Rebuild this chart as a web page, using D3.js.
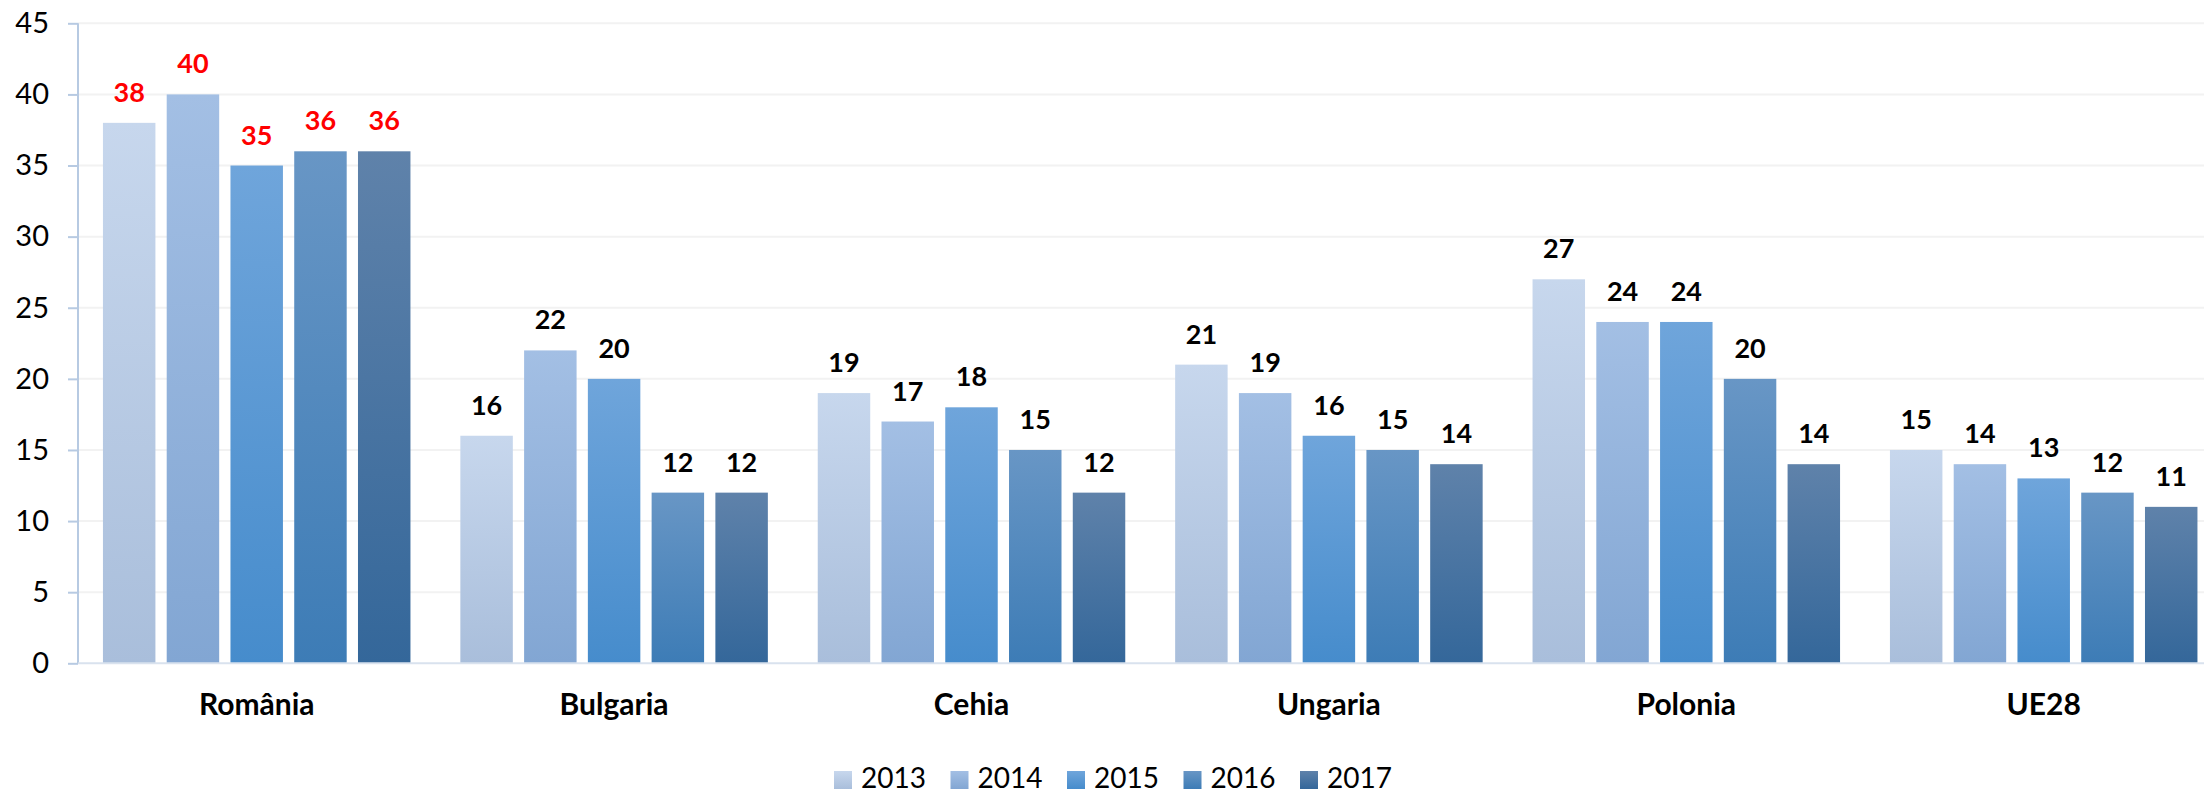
<!DOCTYPE html>
<html>
<head>
<meta charset="utf-8">
<script src="https://cdn.jsdelivr.net/npm/d3@7"></script>
<style>
  html, body { margin: 0; padding: 0; background: #fff; }
  svg { display: block; }
  text { font-family: Lato, "Open Sans", sans-serif; }
</style>
</head>
<body>
<svg id="chart" width="2204" height="795"></svg>
<script>
const countries = ["România", "Bulgaria", "Cehia", "Ungaria", "Polonia", "UE28"];
const years = ["2013", "2014", "2015", "2016", "2017"];
const values2013 = [38, 16, 19, 21, 27, 15];
const values2014 = [40, 22, 17, 19, 24, 14];
const values2015 = [35, 20, 18, 16, 24, 13];
const values2016 = [36, 12, 15, 15, 20, 12];
const values2017 = [36, 12, 12, 14, 14, 11];
const yTicks = [0, 5, 10, 15, 20, 25, 30, 35, 40, 45];
const highlightCountry = "România";

(function () {
const seriesValues = [values2013, values2014, values2015, values2016, values2017];
const gradTop = ["#c7d7ed", "#a3bfe4", "#6fa5db", "#6896c5", "#5f82aa"];
const gradBottom = ["#a9bedb", "#82a6d3", "#468ccc", "#3d7cb6", "#34679a"];

const svg = d3.select("#chart");
const W = 2204;
const mLeft = 78, mTop = 23.3, mBottom = 663.3;
const groupStep = 357.4;

const x0 = d3.scaleBand().domain(countries)
  .range([mLeft, mLeft + groupStep * countries.length])
  .paddingInner(0.1396).paddingOuter(0.0698);
const x1 = d3.scaleBand().domain(years)
  .range([0, x0.bandwidth()]).paddingInner(0.177).paddingOuter(0);
const y = d3.scaleLinear().domain([0, 45]).range([mBottom, mTop]);

const defs = svg.append("defs");
years.forEach((yr, i) => {
  const g = defs.append("linearGradient").attr("id", "g" + yr)
    .attr("x1", 0).attr("y1", 0).attr("x2", 0).attr("y2", 1);
  g.append("stop").attr("offset", "0%").attr("stop-color", gradTop[i]);
  g.append("stop").attr("offset", "100%").attr("stop-color", gradBottom[i]);
});

// gridlines
svg.append("g").selectAll("line").data(yTicks.filter(t => t > 0)).join("line")
  .attr("x1", mLeft).attr("x2", W)
  .attr("y1", d => y(d)).attr("y2", d => y(d))
  .attr("stroke", "#f2f2f2").attr("stroke-width", 2);

// bars
const data = [];
countries.forEach((c, ci) => years.forEach((yr, yi) => data.push({c, yr, v: seriesValues[yi][ci]})));

svg.append("g").selectAll("rect").data(data).join("rect")
  .attr("x", d => x0(d.c) + x1(d.yr))
  .attr("y", d => y(d.v))
  .attr("width", x1.bandwidth())
  .attr("height", d => y(0) - y(d.v))
  .attr("fill", d => `url(#g${d.yr})`);

// data labels
svg.append("g").selectAll("text").data(data).join("text")
  .attr("x", d => x0(d.c) + x1(d.yr) + x1.bandwidth() / 2)
  .attr("y", d => y(d.v) - 21)
  .attr("text-anchor", "middle")
  .attr("font-size", 27).attr("font-weight", 700)
  .attr("fill", d => d.c === highlightCountry ? "#ff0000" : "#000")
  .text(d => d.v);

// y axis
const yAxis = d3.axisLeft(y).tickValues(yTicks).tickSize(10).tickPadding(19);
const ya = svg.append("g").attr("transform", `translate(${mLeft},0)`).call(yAxis);
ya.select(".domain").attr("stroke", "#b7cae2").attr("stroke-width", 2)
  .attr("d", `M0,${mTop}V${mBottom}`);
ya.selectAll(".tick line").attr("stroke", "#b7cae2").attr("stroke-width", 2);
ya.selectAll(".tick text").attr("font-size", 29).attr("fill", "#000")
  .attr("font-family", "Lato, sans-serif");

// baseline
svg.append("line").attr("x1", mLeft).attr("x2", W)
  .attr("y1", y(0)).attr("y2", y(0))
  .attr("stroke", "#d9e2ee").attr("stroke-width", 2);

// category labels
const xAxis = d3.axisBottom(x0).tickSize(0).tickPadding(0);
const xa = svg.append("g").attr("transform", `translate(0,${mBottom})`).call(xAxis);
xa.select(".domain").remove();
xa.selectAll(".tick text").attr("font-size", 30).attr("font-weight", 700)
  .attr("fill", "#000").attr("font-family", "Lato, sans-serif")
  .attr("dy", null).attr("y", 52);

// legend
const legendX = [834, 950.5, 1067, 1183.5, 1300];
const lg = svg.append("g");
years.forEach((yr, i) => {
  lg.append("rect").attr("x", legendX[i]).attr("y", 771).attr("width", 18).attr("height", 18)
    .attr("fill", `url(#g${yr})`);
  lg.append("text")
    .attr("x", legendX[i] + 27).attr("y", 788)
    .attr("font-size", 28).attr("fill", "#000")
    .text(yr);
});
})();
</script>
</body>
</html>
